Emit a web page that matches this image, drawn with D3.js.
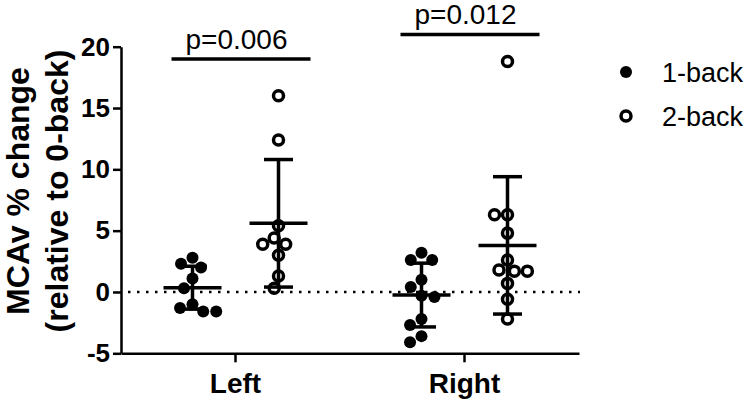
<!DOCTYPE html>
<html>
<head>
<meta charset="utf-8">
<script src="https://cdn.jsdelivr.net/npm/d3@7"></script>
<style>
body { margin: 0; background: #fff; }
svg { font-family: Arial, "Liberation Sans", Helvetica, sans-serif; }
</style>
</head>
<body>
<script>
var groups = ['Left', 'Right']
var series = ['1-back', '2-back']
var yTicks = [-5, 0, 5, 10, 15, 20]

// individual subjects, % change relative to 0-back
var left1 = [2.8, 2.3, 2.0, 1.1, 0.3, -1.0, -1.3, -1.6, -1.6]
var left2 = [16.0, 12.4, 5.4, 4.4, 3.9, 3.9, 3.0, 1.3, 0.3]
var right1 = [3.2, 2.6, 2.6, 1.0, 0.4, -0.3, -0.4, -2.2, -2.7, -3.6, -4.1]
var right2 = [18.8, 6.3, 6.3, 4.8, 2.6, 1.8, 1.7, 1.7, 0.7, -0.6, -2.2]

// mean and SD per cell: Left 1-back, Left 2-back, Right 1-back, Right 2-back
var means = [0.35, 5.6, -0.25, 3.8]
var sds = [1.75, 5.2, 2.6, 5.6]

var pLabels = ['p=0.006', 'p=0.012']

var cells = [
  {group: 'Left', series: '1-back', values: left1, mean: means[0], sd: sds[0]},
  {group: 'Left', series: '2-back', values: left2, mean: means[1], sd: sds[1]},
  {group: 'Right', series: '1-back', values: right1, mean: means[2], sd: sds[2]},
  {group: 'Right', series: '2-back', values: right2, mean: means[3], sd: sds[3]}
]

var width = 750
var height = 401
var r = 6

var svg = d3.select('body').append('svg')
  .attr('width', width)
  .attr('height', height)

var y = d3.scaleLinear().domain([-5, 20]).range([353.3, 46.7])
var x = d3.scaleBand().domain(groups).range([121, 579])
var xs = d3.scalePoint().domain(series).range([-43, 43])

function cx(d) { return x(d.group) + x.bandwidth() / 2 + xs(d.series) }

// simple beeswarm: place each point as near the centre as it can go without overlap
function swarm(vals) {
  var placed = []
  var minD = 2 * r + 1
  return vals.map(function (v) {
    var py = y(v)
    var blocked = []
    placed.forEach(function (p) {
      var dy = Math.abs(p.y - py)
      if (dy < minD) {
        var dx = Math.sqrt(minD * minD - dy * dy)
        blocked.push([p.x - dx, p.x + dx])
      }
    })
    var cands = [0]
    blocked.forEach(function (b) { cands.push(b[0], b[1]) })
    cands.sort(function (a, b) { return Math.abs(a) - Math.abs(b) || a - b })
    var ox = cands.find(function (c) {
      return blocked.every(function (b) { return c <= b[0] + 1e-6 || c >= b[1] - 1e-6 })
    })
    placed.push({x: ox, y: py})
    return {v: v, dx: ox}
  })
}

// zero reference line
svg.append('line')
  .attr('x1', 128).attr('x2', 580)
  .attr('y1', y(0)).attr('y2', y(0))
  .attr('stroke', '#000')
  .attr('stroke-width', 2.5)
  .attr('stroke-dasharray', '2.5,6.5')

// axes
var yAxis = svg.append('g')
  .attr('transform', 'translate(121,0)')
  .call(d3.axisLeft(y).tickValues(yTicks).tickFormat(d => String(d))
    .tickSize(8).tickSizeOuter(0).tickPadding(3))
var xAxis = svg.append('g')
  .attr('transform', `translate(0, ${y(-5)})`)
  .call(d3.axisBottom(x).tickSize(9).tickSizeOuter(0).tickPadding(11))

svg.selectAll('.domain, .tick line')
  .attr('stroke', '#000')
  .attr('stroke-width', 2.5)
yAxis.selectAll('text')
  .attr('fill', '#000')
  .style('font-size', '26px')
  .style('font-weight', 'bold')
xAxis.selectAll('text')
  .attr('fill', '#000')
  .style('font-size', '28px')
  .style('font-weight', 'bold')

// axis title
var titleLines = ['MCAv % change', '(relative to 0-back)']
svg.selectAll('.ytitle')
  .data(titleLines)
  .enter().append('text')
  .attr('class', 'ytitle')
  .attr('transform', (d, i) => `translate(${29 + i * 39}, 191) rotate(-90)`)
  .attr('text-anchor', 'middle')
  .style('font-size', '32px')
  .style('font-weight', 'bold')
  .text(d => d)

// error bars (mean +/- SD)
var bars = svg.append('g')
  .attr('stroke', '#000')
  .attr('stroke-width', 3.5)
cells.forEach(function (d) {
  var c = cx(d)
  bars.append('line')
    .attr('x1', c).attr('x2', c)
    .attr('y1', y(d.mean + d.sd)).attr('y2', y(d.mean - d.sd))
  bars.append('line')
    .attr('x1', c - 14.5).attr('x2', c + 14.5)
    .attr('y1', y(d.mean + d.sd)).attr('y2', y(d.mean + d.sd))
  bars.append('line')
    .attr('x1', c - 14.5).attr('x2', c + 14.5)
    .attr('y1', y(d.mean - d.sd)).attr('y2', y(d.mean - d.sd))
  bars.append('line')
    .attr('x1', c - 29).attr('x2', c + 29)
    .attr('y1', y(d.mean)).attr('y2', y(d.mean))
})

// points
cells.forEach(function (d) {
  var c = cx(d)
  var open = d.series === '2-back'
  svg.append('g').selectAll('circle')
    .data(swarm(d.values))
    .enter().append('circle')
    .attr('cx', p => c + p.dx)
    .attr('cy', p => y(p.v))
    .attr('r', open ? 5 : r)
    .attr('fill', open ? 'none' : '#000')
    .attr('stroke', open ? '#000' : 'none')
    .attr('stroke-width', 3.5)
})

// significance brackets
var sig = [{group: 'Left', label: pLabels[0], level: 19}, {group: 'Right', label: pLabels[1], level: 21}]
sig.forEach(function (s) {
  var c = x(s.group) + x.bandwidth() / 2
  svg.append('line')
    .attr('x1', c - 64).attr('x2', c + 75)
    .attr('y1', y(s.level)).attr('y2', y(s.level))
    .attr('stroke', '#000')
    .attr('stroke-width', 3.5)
  svg.append('text')
    .attr('x', c + 1)
    .attr('y', y(s.level) - 10)
    .attr('text-anchor', 'middle')
    .style('font-size', '28px')
    .text(s.label)
})

// legend
var legend = svg.selectAll('.legend')
  .data(series)
  .enter().append('g')
  .attr('class', 'legend')
  .attr('transform', (d, i) => `translate(626, ${72 + i * 44})`)
legend.append('circle')
  .attr('r', (d, i) => i ? 5 : r)
  .attr('fill', (d, i) => i ? 'none' : '#000')
  .attr('stroke', (d, i) => i ? '#000' : 'none')
  .attr('stroke-width', 3.5)
legend.append('text')
  .attr('x', 36)
  .attr('y', 10)
  .style('font-size', '27px')
  .text(d => d)
</script>
</body>
</html>
